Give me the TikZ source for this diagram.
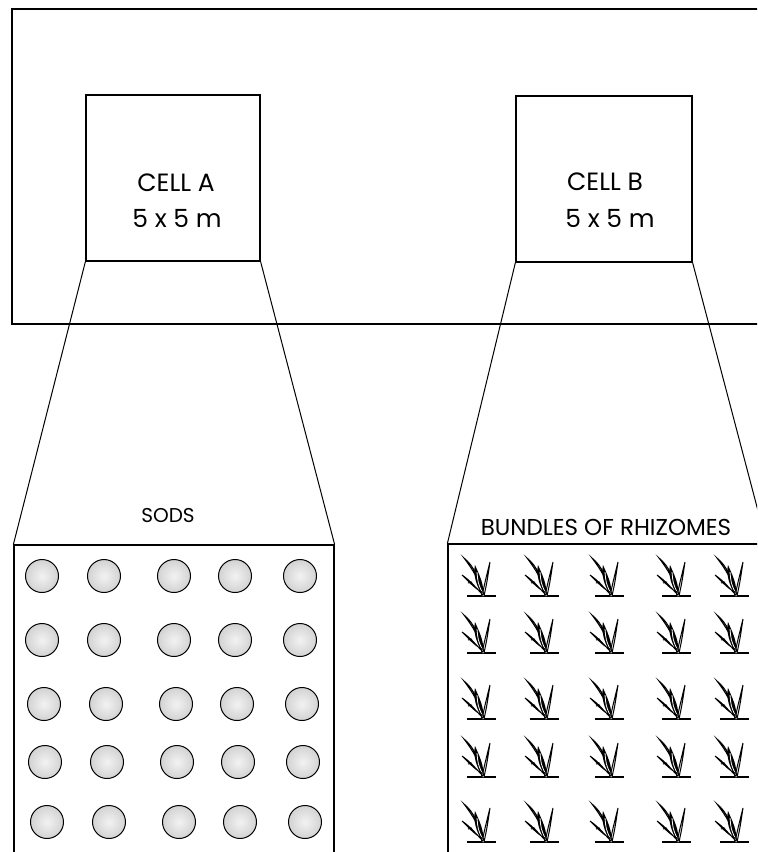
\documentclass[tikz,border=0pt]{standalone}
\usepackage{fontspec}
\setmainfont{Poppins}
\usetikzlibrary{fit}

\tikzset{
  box/.style={draw, line width=0.6pt, inner sep=0pt},
  link/.style={line width=0.5pt},
  lbl/.style={font=\fontsize{12.5}{14}\selectfont, inner sep=0pt},
  hdr/.style={font=\fontsize{10}{12}\selectfont, inner sep=0pt},
  sod/.style={draw, line width=0.5pt, inner color=gray!10, outer color=gray!35},
  rhizome/.pic={
    \draw[line width=1.1pt] (-15,0) -- (14,0);
    % straight blade on the right
    \draw[line width=0.5pt, fill=white] (0,0) .. controls (3,-14) .. (8,-34)
          .. controls (5,-14) .. (2,0);
    % long arching blade
    \draw[line width=0.5pt, fill=white] (0,0) .. controls (-3,-18) and (-8,-30) .. (-18,-38)
          .. controls (-9,-26) and (-3,-16) .. (2,-1);
    % dark leaf of the bundle
    \fill (1,0) .. controls (-6,-10) and (-9,-22) .. (-7,-31)
          .. controls (-3,-22) and (3,-10) .. (1,0);
    \draw[white, line width=0.4pt] (0,-4) .. controls (-4,-13) .. (-5,-24);
    % lower blade bent to the left
    \draw[line width=0.5pt, fill=white] (1,-1) .. controls (-6,-8) and (-10,-14) .. (-20,-21)
          .. controls (-11,-12) and (-5,-6) .. (0,-4);
    \draw[line width=0.5pt] (-10,-14) -- (-14,-13);
  }
}

\begin{document}
\begin{tikzpicture}[x=0.5pt, y=-0.5pt]
\useasboundingbox (0,0) rectangle (757,852);
\clip (0,0) rectangle (757,852);

% site outline and the two sample cells
\node[box, fit={(12,9) (800,324)}] (site) {};
\node[box, fit={(86,95) (260,261)}] (cellA) {};
\node[box, fit={(516,96) (692,262)}] (cellB) {};
\node[lbl] (cellAname) at (176,183) {CELL A};
\node[lbl] (cellAsize) at (177,218) {5 x 5 m};
\node[lbl] (cellBname) at (605,182) {CELL B};
\node[lbl] (cellBsize) at (610,218) {5 x 5 m};

% enlarged views
\node[box, fit={(14,545) (334,900)}] (panelA) {};
\node[box, fit={(448,544) (766,900)}] (panelB) {};
\node[hdr] (sods) at (168,516) {SODS};
\node[hdr, font=\fontsize{11.5}{13}\selectfont] (bundles) at (606,527) {BUNDLES OF RHIZOMES};

\draw[link] (cellA.south west) -- (panelA.north west);
\draw[link] (cellA.south east) -- (panelA.north east);
\draw[link] (cellB.south west) -- (panelB.north west);
\draw[link] (cellB.south east) -- (panelB.north east);

% sods, 5x5
\foreach \y/\s in {576/0, 640/0, 704/2, 762/3, 822/5}{
  \foreach \x in {42,104,174,235,300}{
    \path[sod] (\x+\s,\y) circle[radius=16.5];
  }
}

% rhizome bundles, 5x5
\foreach \y in {596,653,719,777,842}{
  \foreach \x in {482,545,610,677,735}{
    \pic at (\x,\y) {rhizome};
  }
}
\end{tikzpicture}
\end{document}
